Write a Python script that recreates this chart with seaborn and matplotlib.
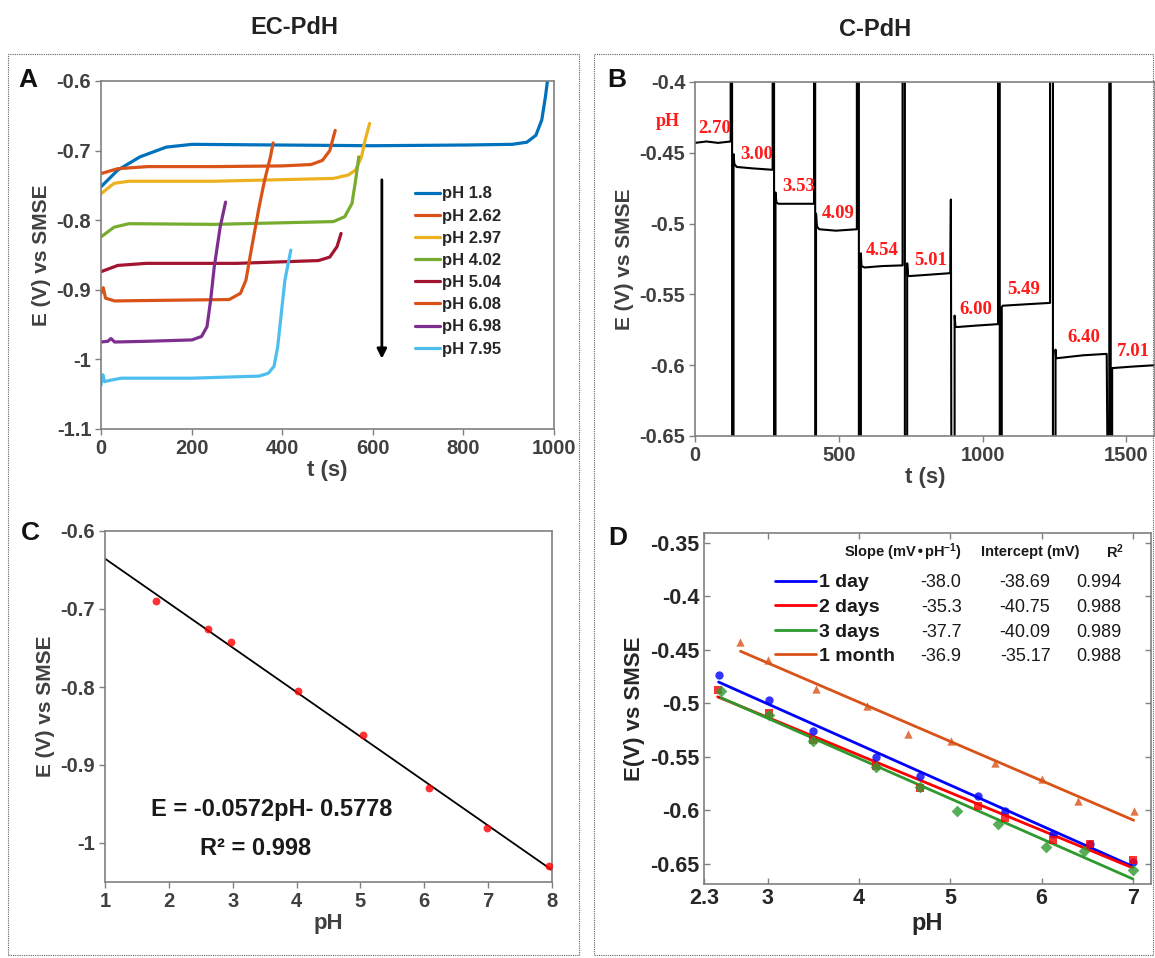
"""Open-circuit potential vs pH for EC-PdH and C-PdH electrodes (4-panel figure)."""

import matplotlib
matplotlib.use('Agg')
import matplotlib.pyplot as plt
import matplotlib.transforms as mtransforms
from matplotlib.patches import Rectangle
import seaborn as sns

sns.set_theme(style="white")
plt.rcParams['font.family'] = ['Liberation Sans', 'DejaVu Sans']
plt.rcParams['font.weight'] = 'bold'
plt.rcParams['axes.labelweight'] = 'bold'
plt.rcParams['mathtext.default'] = 'regular'
plt.rcParams['axes.unicode_minus'] = False

TICK_C = '#404040'
SPINE_C = '#808080'

# ---------------- Panel A: EC-PdH potential transients ----------------
A_labels = ['pH 1.8', 'pH 2.62', 'pH 2.97', 'pH 4.02', 'pH 5.04', 'pH 6.08', 'pH 6.98', 'pH 7.95']
A_colors = ['#0072BD', '#D95319', '#EDB120', '#77AC30', '#A2142F', '#D95319', '#7E2F8E', '#4DBEEE']
A_t = [
    [0, 37, 86, 144, 201, 400, 600, 800, 907, 940, 960, 973, 981, 986],
    [0, 37, 103, 250, 400, 464, 489, 505, 517],
    [0, 29, 62, 250, 513, 546, 562, 575, 583, 593],
    [0, 29, 62, 250, 513, 538, 554, 562, 569],
    [0, 37, 100, 300, 480, 505, 521, 530],
    [0, 5, 10, 30, 150, 283, 308, 320, 333, 349, 361, 374, 380],
    [0, 15, 22, 30, 100, 201, 222, 234, 242, 250, 263, 275],
    [0, 4, 8, 20, 45, 200, 349, 369, 382, 390, 398, 406, 419],
]
A_E = [
    [-0.752, -0.728, -0.709, -0.695, -0.691, -0.692, -0.693, -0.692, -0.691, -0.688, -0.678, -0.656, -0.623, -0.598],
    [-0.733, -0.726, -0.723, -0.723, -0.722, -0.720, -0.714, -0.700, -0.671],
    [-0.762, -0.747, -0.744, -0.744, -0.740, -0.735, -0.728, -0.709, -0.685, -0.661],
    [-0.824, -0.810, -0.805, -0.806, -0.802, -0.795, -0.776, -0.743, -0.709],
    [-0.874, -0.865, -0.862, -0.862, -0.858, -0.853, -0.838, -0.819],
    [-0.905, -0.897, -0.912, -0.916, -0.915, -0.914, -0.905, -0.886, -0.838, -0.781, -0.743, -0.709, -0.689],
    [-0.975, -0.974, -0.970, -0.975, -0.974, -0.972, -0.967, -0.953, -0.915, -0.867, -0.810, -0.774],
    [-1.037, -1.022, -1.032, -1.030, -1.027, -1.027, -1.024, -1.020, -1.010, -0.982, -0.934, -0.886, -0.843],
]
A_arrow_t = 620
A_arrow_E = (-0.738, -1.003)

# ---------------- Panel B: C-PdH potential vs time, pH steps ----------------
HI, LO = -0.3, -0.7   # off-scale excursions while the solution is exchanged
B_seg_t = [
    [0, 40, 80, 124],
    [134, 137, 145, 200, 270],
    [280, 283, 290, 350, 414],
    [421, 424, 432, 490, 563],
    [577, 579, 590, 650, 722],
    [738, 741, 750, 820, 888, 890, 892],
    [903, 903, 906, 915, 980, 1054],
    [1067, 1070, 1150, 1235],
    [1254, 1256, 1262, 1350, 1432, 1436],
    [1451, 1454, 1520, 1600],
]
B_seg_E = [
    [-0.443, -0.442, -0.443, -0.442],
    [-0.451, -0.458, -0.460, -0.461, -0.462],
    [-0.478, -0.485, -0.486, -0.486, -0.486],
    [-0.493, -0.502, -0.504, -0.505, -0.504],
    [-0.521, -0.530, -0.531, -0.530, -0.5295],
    [-0.528, -0.537, -0.537, -0.536, -0.535, -0.483, LO],
    [LO, -0.565, -0.573, -0.573, -0.572, -0.571],
    [-0.559, -0.558, -0.557, -0.556],
    [-0.589, -0.595, -0.595, -0.593, -0.592, LO],
    [-0.602, -0.602, -0.601, -0.600],
]
# (up, down, back) times of each exchange spike between segments
B_spikes = [(124, 129, 134), (270, 275, 280), (414, 418, 421), (563, 570, 577),
            (722, 730, 738), None, (1054, 1060, 1067), (1235, 1245, 1254), (1441, 1446, 1451)]
B_lab = ['2.70', '3.00', '3.53', '4.09', '4.54', '5.01', '6.00', '5.49', '6.40', '7.01']
B_lab_t = [70, 213, 359, 497, 650, 818, 975, 1143, 1353, 1525]
B_lab_E = [-0.433, -0.451, -0.474, -0.4926, -0.519, -0.5263, -0.5605, -0.5463, -0.5805, -0.590]

# ---------------- Panel C: EC-PdH calibration ----------------
C_pH = [1.8, 2.62, 2.97, 4.02, 5.04, 6.08, 6.98, 7.95]
C_E = [-0.690, -0.725, -0.742, -0.805, -0.862, -0.929, -0.981, -1.030]

# ---------------- Panel D: C-PdH calibration over time ----------------
D_names = ['1 day', '2 days', '3 days', '1 month']
D_colors = ['#0000FF', '#FF0000', '#2E9A2E', '#D95319']
D_markers = ['o', 's', 'D', '^']
D_pH = [
    [2.46, 3.01, 3.50, 4.18, 4.67, 5.30, 5.60, 6.13, 6.53, 7.00],
    [2.45, 3.01, 3.50, 4.18, 4.67, 5.30, 5.60, 6.13, 6.53, 7.00],
    [2.49, 3.01, 3.50, 4.18, 4.67, 5.07, 5.52, 6.05, 6.47, 7.00],
    [2.70, 3.00, 3.53, 4.09, 4.54, 5.01, 5.49, 6.00, 6.40, 7.01],
]
D_E = [
    [-0.474, -0.497, -0.526, -0.550, -0.568, -0.587, -0.601, -0.622, -0.632, -0.648],
    [-0.488, -0.509, -0.534, -0.559, -0.579, -0.596, -0.6075, -0.628, -0.632, -0.647],
    [-0.489, -0.511, -0.535, -0.560, -0.5785, -0.601, -0.613, -0.634, -0.638, -0.656],
    [-0.443, -0.460, -0.487, -0.503, -0.529, -0.535, -0.556, -0.571, -0.591, -0.601],
]
D_slope = ['-38.0', '-35.3', '-37.7', '-36.9']
D_intercept = ['-38.69', '-40.75', '-40.09', '-35.17']
D_r2 = ['0.994', '0.988', '0.989', '0.988']


def style_axes(ax, direction='out', mirror=False, size=14.5, color=TICK_C):
    for s in ax.spines.values():
        s.set_visible(True)
        s.set_color(SPINE_C)
        s.set_linewidth(1.2)
    ax.tick_params(direction=direction, length=4, width=1.0, color=SPINE_C,
                   labelsize=size, labelcolor=color, top=mirror, right=mirror,
                   bottom=True, left=True, pad=3)
    fmt = matplotlib.ticker.FuncFormatter(lambda v, p: f'{v:g}')
    ax.xaxis.set_major_formatter(fmt)
    ax.yaxis.set_major_formatter(fmt)
    ax.grid(False)


W, H = 1155, 958
fig = plt.figure(figsize=(W / 100, H / 100), dpi=100)


def px_axes(x0, x1, y0, y1):
    return fig.add_axes([x0 / W, 1 - y1 / H, (x1 - x0) / W, (y1 - y0) / H])


# dotted frames and column titles
for x0, x1 in [(8, 579), (594, 1153)]:
    fig.patches.append(Rectangle((x0 / W, 1 - 955 / H), (x1 - x0) / W, (955 - 54) / H,
                                 transform=fig.transFigure, fill=False, ec='#606060',
                                 lw=0.8, ls=(0, (1, 1))))
fig.text(294 / W, 1 - 27 / H, 'EC-PdH', ha='center', va='center', fontsize=17, color='#222222')
fig.text(875 / W, 1 - 30 / H, 'C-PdH', ha='center', va='center', fontsize=17, color='#222222')
for lab, x, y in [('A', 28, 80), ('B', 617, 80), ('C', 30, 533), ('D', 618, 538)]:
    fig.text(x / W, 1 - y / H, lab, ha='center', va='center', fontsize=19, color='#111111')

# ---- A ----
axA = px_axes(101, 554, 81, 429)
for t, E, lab, c in zip(A_t, A_E, A_labels, A_colors):
    sns.lineplot(x=t, y=E, color=c, lw=2.3, label=lab, sort=False, estimator=None, ax=axA)
axA.annotate('', xy=(A_arrow_t, A_arrow_E[1]), xytext=(A_arrow_t, A_arrow_E[0]),
             arrowprops=dict(arrowstyle='-|>', color='black', lw=2, mutation_scale=14))
axA.set_xlim(0, 1000)
axA.set_ylim(-1.1, -0.6)
axA.set_xticks(range(0, 1001, 200))
axA.set_yticks([-1.1, -1.0, -0.9, -0.8, -0.7, -0.6])
axA.set_xlabel('t (s)', fontsize=16, fontweight='bold', color=TICK_C, labelpad=2)
axA.set_ylabel('E (V) vs SMSE', fontsize=15, fontweight='bold', color=TICK_C, labelpad=4)
axA.legend(loc='upper left', bbox_to_anchor=(0.693, 0.697), frameon=False,
           prop=dict(weight='bold', size=12), handlelength=1.5, handletextpad=0.1,
           labelspacing=0.43, borderpad=0, borderaxespad=0)
style_axes(axA)

# ---- B ----
axB = px_axes(695, 1155, 82, 436)
B_t, B_E = [], []
for i, (ts, Es) in enumerate(zip(B_seg_t, B_seg_E)):
    B_t += ts
    B_E += Es
    if i < len(B_spikes) and B_spikes[i] is not None:
        up, down, back = B_spikes[i]
        B_t += [up, up, down, down, back]
        B_E += [B_E[-1], HI, HI, LO, LO]
sns.lineplot(x=B_t, y=B_E, color='black', lw=1.5, sort=False, estimator=None, ax=axB)
for s, t, E in zip(B_lab, B_lab_t, B_lab_E):
    axB.text(t, E, s, color='#FF1a1a', fontsize=13.5,
             family=['Liberation Serif', 'DejaVu Serif'], ha='center', va='center')
axB.text(-93, -0.428, 'pH', color='#FF1a1a', fontsize=13,
         family=['Liberation Serif', 'DejaVu Serif'], ha='center', va='center', clip_on=False)
axB.set_xlim(0, 1600)
axB.set_ylim(-0.65, -0.4)
axB.set_xticks([0, 500, 1000, 1500])
axB.set_yticks([-0.65, -0.6, -0.55, -0.5, -0.45, -0.4])
axB.set_xlabel('t (s)', fontsize=16, fontweight='bold', color=TICK_C, labelpad=2)
axB.set_ylabel('E (V) vs SMSE', fontsize=15, fontweight='bold', color=TICK_C, labelpad=4)
style_axes(axB)

# ---- C ----
axC = px_axes(105, 552, 531, 882)
axC.set_xlim(1, 8)
axC.set_ylim(-1.05, -0.6)
sns.regplot(x=C_pH, y=C_E, ci=None, truncate=False, ax=axC,
            scatter_kws=dict(color='#FF0000', s=32, zorder=3, linewidths=0),
            line_kws=dict(color='black', lw=1.3))
axC.set_xlim(1, 8)
axC.set_ylim(-1.05, -0.6)
axC.set_xticks(range(1, 9))
axC.set_yticks([-1.0, -0.9, -0.8, -0.7, -0.6])
axC.text(3.61, -0.957, 'E = -0.0572pH- 0.5778', fontsize=17, ha='center', va='center', color='#1a1a1a')
axC.text(3.35, -1.0075, 'R² = 0.998', fontsize=17, ha='center', va='center', color='#1a1a1a')
axC.set_xlabel('pH', fontsize=16, fontweight='bold', color=TICK_C, labelpad=2)
axC.set_ylabel('E (V) vs SMSE', fontsize=15, fontweight='bold', color=TICK_C, labelpad=4)
style_axes(axC)

# ---- D ----
axD = px_axes(704, 1151, 533, 884)
handles = []
for x, y, c, m in zip(D_pH, D_E, D_colors, D_markers):
    sns.regplot(x=x, y=y, ci=None, truncate=True, ax=axD, marker=m, color=c,
                scatter_kws=dict(s=36, linewidths=0, zorder=3), line_kws=dict(lw=2))
    handles.append(axD.lines[-1])
axD.set_xlim(2.3, 7.2)
axD.set_ylim(-0.669, -0.341)
axD.set_xticks([2.3, 3, 4, 5, 6, 7])
axD.set_yticks([-0.65, -0.6, -0.55, -0.5, -0.45, -0.4, -0.35])
axD.set_xlabel('pH', fontsize=17, fontweight='bold', color='#262626', labelpad=2)
axD.set_ylabel('E(V) vs SMSE', fontsize=16, fontweight='bold', color='#262626', labelpad=4)
style_axes(axD, direction='in', mirror=True, size=15.5, color='#262626')
leg = axD.legend(handles, D_names, loc='upper left', bbox_to_anchor=(0.159, 0.884),
                 frameon=False, prop=dict(weight='bold', size=14), handlelength=2.1,
                 handletextpad=0.15, labelspacing=0.36, borderpad=0, borderaxespad=0)
for t in leg.get_texts():
    t.set_color('#1a1a1a')

# table values, aligned to the legend rows
fig.canvas.draw()
blend = mtransforms.blended_transform_factory(axD.transData, axD.transAxes)
inv = axD.transAxes.inverted()
for txt, sl, ic, r2 in zip(leg.get_texts(), D_slope, D_intercept, D_r2):
    bb = txt.get_window_extent()
    yc = inv.transform((0, (bb.y0 + bb.y1) / 2))[1]
    for xv, s in [(4.90, sl), (5.82, ic), (6.63, r2)]:
        axD.text(xv, yc, s, transform=blend, fontsize=13, fontweight='normal',
                 ha='center', va='center', color='#1a1a1a')
for xv, s in [(4.48, 'Slope (mV•pH$^{-1}$)'), (5.88, 'Intercept (mV)'), (6.80, 'R$^2$')]:
    axD.text(xv, 0.946, s, transform=blend, fontsize=10.5, ha='center', va='center', color='#1a1a1a')

fig.savefig('out.png', dpi=100, facecolor='white')
